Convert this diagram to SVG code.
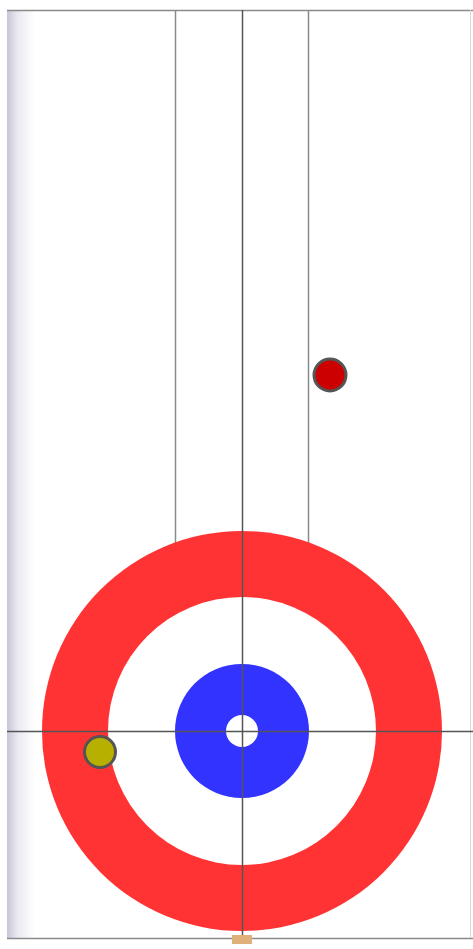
<svg xmlns="http://www.w3.org/2000/svg" width="473" height="949" viewBox="0 0 473 949">
<defs>
<linearGradient id="lg" x1="0" y1="0" x2="1" y2="0">
<stop offset="0" stop-color="#c8c6d8"/>
<stop offset="0.4" stop-color="#eceaf2"/>
<stop offset="1" stop-color="#ffffff"/>
</linearGradient>
<style>
.ln{stroke:#8a8a8a;stroke-width:1.5;fill:none}
.dk{stroke:#555;stroke-width:1.5;fill:none}
.stone{stroke:#555;stroke-width:3}
</style>
</defs>
<rect x="0" y="0" width="473" height="949" fill="#ffffff"/>
<rect x="7" y="10" width="28" height="928" fill="url(#lg)"/>
<g id="sheet">
<line class="ln" x1="7" y1="10.5" x2="473" y2="10.5" stroke-width="2"/>
<line class="ln" x1="7" y1="938.5" x2="473" y2="938.5" stroke-width="2"/>
<line x1="470.5" y1="10" x2="470.5" y2="938" stroke="#d8d8d8" stroke-width="1"/>
</g>
<g id="connectors">
<line class="ln" x1="175.5" y1="10" x2="175.5" y2="545"/>
<line class="ln" x1="308.5" y1="10" x2="308.5" y2="545"/>
</g>
<g id="house">
<circle cx="242" cy="731" r="200" fill="#ff3333"/>
<circle cx="242" cy="731" r="134" fill="#ffffff"/>
<circle cx="242" cy="731" r="67" fill="#3333ff"/>
<circle cx="242" cy="731" r="16" fill="#ffffff"/>
</g>
<g id="lines">
<line class="dk" x1="242.5" y1="10" x2="242.5" y2="938" stroke="#666"/>
<line class="dk" x1="7" y1="731.5" x2="473" y2="731.5"/>
</g>
<g id="red-stone">
<circle class="stone" cx="330" cy="375" r="16" fill="#cc0000"/>
</g>
<g id="yellow-stone">
<circle class="stone" cx="100" cy="752" r="15.5" fill="#b8b000"/>
</g>
<g id="hack">
<rect x="232" y="935" width="20" height="9" fill="#e0b07a"/>
</g>
</svg>
